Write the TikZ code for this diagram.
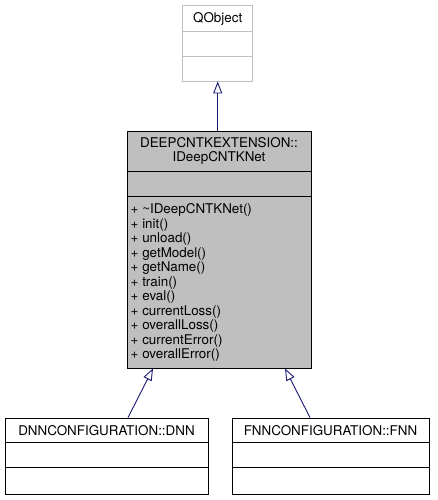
\documentclass[tikz,border=0pt]{standalone}
\usepackage{fontspec}
\setmainfont{TeX Gyre Heros}
\usetikzlibrary{arrows.meta}
\usetikzlibrary{calc}
\definecolor{edgeblue}{HTML}{191970}
\definecolor{boxgray}{HTML}{BFBFBF}

\begin{document}
\begin{tikzpicture}[x=1pt, y=-1pt,
	cls/.style={rectangle, draw=black, fill=white, line width=0.9pt, inner sep=0pt},
	lbl/.style={inner sep=0pt, font=\fontsize{13.4}{14.5}\selectfont},
	inherit/.style={draw=edgeblue, line width=0.9pt, -{Triangle[open, length=12pt, width=9pt]}}]

				\useasboundingbox (0,0) rectangle (437,500);

				% classes
				\node[cls, draw=boxgray, minimum width=70pt, minimum height=76pt] (qobj) at (217.7,43) {};
				\node[lbl] (qobjname) at (217.7,18.5) {QObject};
				\draw[boxgray, line width=0.9pt] ($(qobj.north west)+(0,27)$) -- ($(qobj.north east)+(0,27)$);
				\draw[boxgray, line width=0.9pt] ($(qobj.north west)+(0,52)$) -- ($(qobj.north east)+(0,52)$);

				\node[cls, fill=boxgray, minimum width=184pt, minimum height=237pt] (net) at (219,249.5) {};
				\node[lbl, align=center] (netname) at (219,151) {DEEPCNTKEXTENSION::\\IDeepCNTKNet};
				\draw[line width=0.9pt] ($(net.north west)+(0,41)$) -- ($(net.north east)+(0,41)$);
				\draw[line width=0.9pt] ($(net.north west)+(0,66)$) -- ($(net.north east)+(0,66)$);
				\node[lbl, align=left, anchor=west] (netops) at (130.5,282.5) {+ \textasciitilde IDeepCNTKNet()\\+ init()\\+ unload()\\+ getModel()\\+ getName()\\+ train()\\+ eval()\\+ currentLoss()\\+ overallLoss()\\+ currentError()\\+ overallError()};

				\node[cls, minimum width=203pt, minimum height=76pt] (dnn) at (106.5,456) {};
				\node[lbl] (dnnname) at (106.5,431) {DNNCONFIGURATION::DNN};
				\draw[line width=0.9pt] ($(dnn.north west)+(0,25)$) -- ($(dnn.north east)+(0,25)$);
				\draw[line width=0.9pt] ($(dnn.north west)+(0,50)$) -- ($(dnn.north east)+(0,50)$);

				\node[cls, minimum width=197pt, minimum height=76pt] (fnn) at (330.5,456) {};
				\node[lbl] (fnnname) at (330.5,431) {FNNCONFIGURATION::FNN};
				\draw[line width=0.9pt] ($(fnn.north west)+(0,25)$) -- ($(fnn.north east)+(0,25)$);
				\draw[line width=0.9pt] ($(fnn.north west)+(0,50)$) -- ($(fnn.north east)+(0,50)$);

				% arrows
				\draw[inherit] (qobj.south |- net.north) -- (qobj.south);
				\draw[inherit] ($(dnn.north)+(21.5,0)$) -- ($(net.south)+(-66,0)$);
				\draw[inherit] ($(fnn.north)+(-20.5,0)$) -- ($(net.south)+(66,0)$);
			\end{tikzpicture}
\end{document}
